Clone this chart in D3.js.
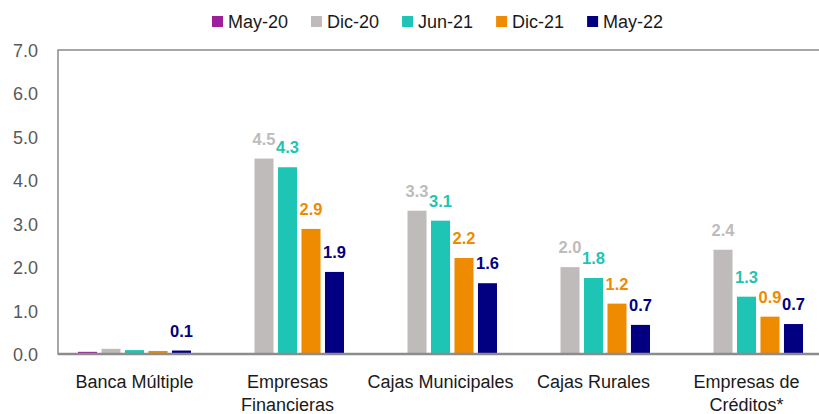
<!DOCTYPE html>
<html>
<head>
<meta charset="utf-8">
<script src="https://cdn.jsdelivr.net/npm/d3@7"></script>
<style>
  body { margin: 0; background: #fff; }
  svg { display: block; }
</style>
</head>
<body>
<div id="chart"></div>
<script>
// categories and series
var categories = ["Banca Múltiple", "Empresas Financieras", "Cajas Municipales", "Cajas Rurales", "Empresas de Créditos*"];
var axisLabels = [["Banca Múltiple"], ["Empresas", "Financieras"], ["Cajas Municipales"], ["Cajas Rurales"], ["Empresas de", "Créditos*"]];
var series = ["May-20", "Dic-20", "Jun-21", "Dic-21", "May-22"];
var colors = ["#9e1f99", "#bfbbba", "#1ec4b4", "#ee8b00", "#020080"];

var may20 = [0.05, null, null, null, null];
var dic20 = [0.12, 4.5, 3.3, 2.0, 2.4];
var jun21 = [0.09, 4.3, 3.07, 1.75, 1.32];
var dic21 = [0.07, 2.88, 2.21, 1.16, 0.86];
var may22 = [0.08, 1.89, 1.63, 0.67, 0.69];

// which series carry a value label in each category
var labelled = [
    ["May-22"],
    ["Dic-20", "Jun-21", "Dic-21", "May-22"],
    ["Dic-20", "Jun-21", "Dic-21", "May-22"],
    ["Dic-20", "Jun-21", "Dic-21", "May-22"],
    ["Dic-20", "Jun-21", "Dic-21", "May-22"]
];

var yTicks = [0, 1, 2, 3, 4, 5, 6, 7];

var values = [may20, dic20, jun21, dic21, may22];

var width = 819,
    height = 414;

// note: "top" is taken by window.top, so plot edges get their own names
var plotLeft = 58,
    plotTop = 50,
    plotBottom = 354,
    plotRight = 823;

var font = "'Liberation Sans', Arial, sans-serif";

var svg = d3.select("#chart").append("svg")
    .attr("width", width)
    .attr("height", height);

var x0 = d3.scaleBand().domain(categories).range([plotLeft, plotRight]).padding(0);
var x1 = d3.scaleBand().domain(series).range([20, 133]).paddingInner(0.19);
var y = d3.scaleLinear().domain([0, 7]).range([plotBottom, plotTop]);
var color = d3.scaleOrdinal().domain(series).range(colors);

// frame of the plot area
svg.append("rect")
    .attr("x", plotLeft)
    .attr("y", plotTop)
    .attr("width", 830 - plotLeft)
    .attr("height", plotBottom - plotTop)
    .attr("fill", "none")
    .attr("stroke", "#8a8a8a")
    .attr("stroke-width", 1.5);

// flatten the data
var bars = [];
categories.forEach(function(cat, i) {
    series.forEach(function(s, j) {
        var v = values[j][i];
        if (v == null) return;
        bars.push({ cat: cat, series: s, value: v, label: labelled[i].indexOf(s) >= 0 });
    });
});

svg.append("g").selectAll("rect")
    .data(bars)
    .enter().append("rect")
    .attr("x", function(d) { return x0(d.cat) + x1(d.series); })
    .attr("y", function(d) { return y(d.value); })
    .attr("width", x1.bandwidth())
    .attr("height", function(d) { return y(0) - y(d.value); })
    .attr("fill", function(d) { return color(d.series); });

svg.append("g").selectAll("text")
    .data(bars.filter(function(d) { return d.label; }))
    .enter().append("text")
    .attr("x", function(d) { return x0(d.cat) + x1(d.series) + x1.bandwidth() / 2; })
    .attr("y", function(d) { return y(d.value) - 14; })
    .attr("text-anchor", "middle")
    .attr("font-family", font)
    .attr("font-weight", "bold")
    .attr("font-size", 16.5)
    .attr("fill", function(d) { return color(d.series); })
    .text(function(d) { return d3.format(".1f")(d.value); });

// baseline
svg.append("line")
    .attr("x1", plotLeft)
    .attr("x2", width)
    .attr("y1", y(0))
    .attr("y2", y(0))
    .attr("stroke", "#8c8c8c")
    .attr("stroke-width", 2.5);

// y axis labels
var yAxis = svg.append("g")
    .attr("transform", "translate(" + (plotLeft - 20) + ",0)")
    .call(d3.axisLeft(y).tickValues(yTicks).tickFormat(d3.format(".1f")).tickSize(0).tickPadding(0));
yAxis.select(".domain").remove();
yAxis.selectAll("text")
    .attr("font-family", font)
    .attr("font-size", 18)
    .attr("fill", "#595959")
    .attr("dy", "0.36em");

// x axis labels
var xAxis = svg.append("g")
    .attr("transform", "translate(0," + plotBottom + ")")
    .call(d3.axisBottom(x0).tickSize(0).tickPadding(0).tickFormat(""));
xAxis.select(".domain").remove();
xAxis.selectAll(".tick").each(function(d, i) {
    var t = d3.select(this).append("text")
        .attr("text-anchor", "middle")
        .attr("font-family", font)
        .attr("font-size", 18)
        .attr("fill", "#1a1a1a");
    axisLabels[i].forEach(function(line, k) {
        t.append("tspan").attr("x", 0).attr("y", 34 + k * 23).text(line);
    });
});

// legend
var legend = svg.append("g").attr("transform", "translate(212,0)");
var lx = 0;
series.forEach(function(s) {
    var item = legend.append("g").attr("transform", "translate(" + lx + ",0)");
    item.append("rect")
        .attr("x", 0).attr("y", 16)
        .attr("width", 11).attr("height", 11)
        .attr("fill", color(s));
    var t = item.append("text")
        .attr("x", 16).attr("y", 28)
        .attr("font-family", font)
        .attr("font-size", 18)
        .attr("fill", "#1a1a1a")
        .text(s);
    lx += 16 + t.node().getComputedTextLength() + 23;
});
</script>
</body>
</html>
